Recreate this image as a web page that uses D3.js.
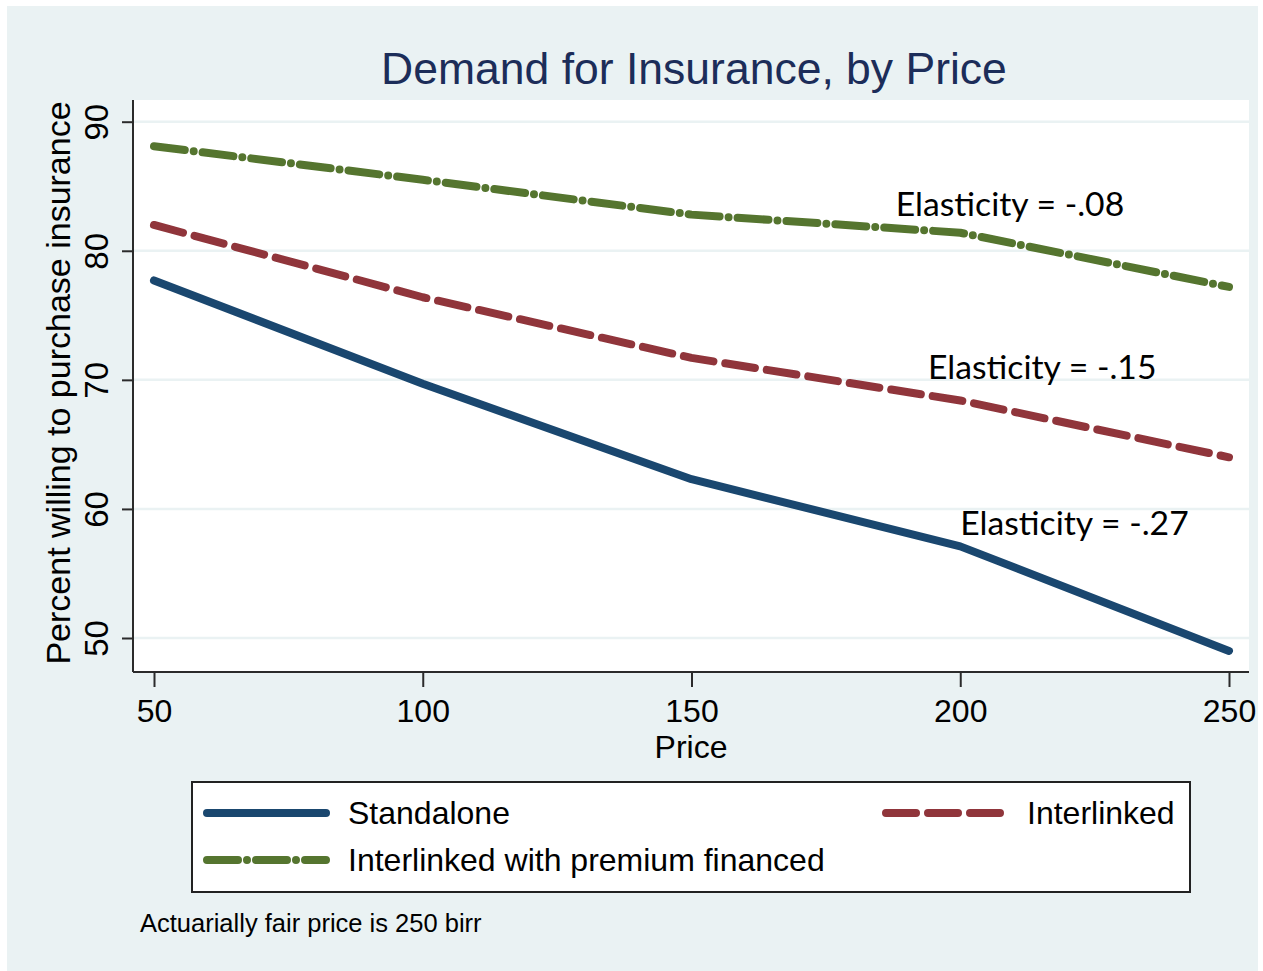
<!DOCTYPE html>
<meta charset="utf-8">
<style>
    body { margin: 0; background: #ffffff; }
    text { font-family: "Liberation Sans", Arial, Helvetica, sans-serif; fill: #000; }
    .grid line { stroke: #eaf2f3; stroke-width: 2.5px; }
    .axis path, .axis line { stroke: #2b2b2b; stroke-width: 2px; }
    .series { fill: none; stroke-width: 8px; stroke-linecap: round; stroke-linejoin: round; }
    .note-elast { font-family: Lato, "Open Sans", sans-serif; }
</style>
<svg width="1263" height="971"></svg>
<script src="https://cdn.jsdelivr.net/npm/d3@7"></script>
<script>
    // values
    let prices = [50, 100, 150, 200, 250];
    let standalone = [77.7, 69.7, 62.3, 57.1, 49.0];
    let interlinked = [82.0, 76.4, 71.7, 68.4, 64.0];
    let financed = [88.1, 85.5, 82.8, 81.4, 77.2];
    let yTicks = [50, 60, 70, 80, 90];
    let xTicks = [50, 100, 150, 200, 250];
    let seriesNames = ["Standalone", "Interlinked", "Interlinked with premium financed"];
    let elastLabels = ["Elasticity = -.08", "Elasticity = -.15", "Elasticity = -.27"];
    let elastPrice = [188, 194, 200];
    let elastValue = [82.7, 70.1, 58.0];

    let svg = d3.select("svg");

    let plot = {left: 133, right: 1249, top: 100, bottom: 672};

    let x = d3.scaleLinear().domain([50, 250]).range([154, 1229]);
    let y = d3.scaleLinear().domain([50, 90]).range([638, 121.7]);

    let colors = ["#1a476f", "#90353b", "#55752f"];
    let dashes = [null, "30,12", "31,9,0,9"];

    // outer graph region
    svg.append("rect")
            .attr("x", 7).attr("y", 6)
            .attr("width", 1251).attr("height", 965)
            .attr("fill", "#eaf2f3");

    svg.append("rect")
            .attr("x", plot.left).attr("y", plot.top)
            .attr("width", plot.right - plot.left)
            .attr("height", plot.bottom - plot.top)
            .attr("fill", "#ffffff");

    // gridlines
    svg.append("g")
            .attr("class", "grid")
            .selectAll("line")
            .data(yTicks)
            .enter().append("line")
            .attr("x1", plot.left).attr("x2", plot.right)
            .attr("y1", (d) => y(d)).attr("y2", (d) => y(d));

    // axes
    let yAxis = svg.append("g")
            .attr("class", "axis")
            .attr("transform", "translate(" + plot.left + ",0)")
            .call(d3.axisLeft(y).tickValues(yTicks).tickSize(11).tickSizeOuter(0).tickFormat(d3.format("d")));
    yAxis.select(".domain").attr("d", "M0," + plot.top + "V" + plot.bottom);
    yAxis.selectAll(".tick text")
            .attr("x", null).attr("dy", null)
            .attr("transform", "translate(-25,0) rotate(-90)")
            .attr("text-anchor", "middle")
            .style("font-size", "33px");

    let xAxis = svg.append("g")
            .attr("class", "axis")
            .attr("transform", "translate(0," + plot.bottom + ")")
            .call(d3.axisBottom(x).tickValues(xTicks).tickSize(15).tickSizeOuter(0).tickFormat(d3.format("d")));
    xAxis.select(".domain").attr("d", "M" + plot.left + ",0H" + plot.right);
    xAxis.selectAll(".tick text")
            .attr("y", 50).attr("dy", null)
            .style("font-size", "32px");
    svg.selectAll(".axis text").attr("fill", "#000");

    // axis titles
    svg.append("text")
            .attr("transform", "translate(70,383) rotate(-90)")
            .attr("text-anchor", "middle")
            .style("font-size", "34px")
            .text("Percent willing to purchase insurance");

    svg.append("text")
            .attr("x", (plot.left + plot.right) / 2)
            .attr("y", 758)
            .attr("text-anchor", "middle")
            .style("font-size", "32px")
            .text("Price");

    svg.append("text")
            .attr("x", 694)
            .attr("y", 84)
            .attr("text-anchor", "middle")
            .style("font-size", "44.5px")
            .style("fill", "#1c2d59")
            .text("Demand for Insurance, by Price");

    // lines
    let line = d3.line()
            .x((d, i) => x(prices[i]))
            .y((d) => y(d));

    let allSeries = [standalone, interlinked, financed];
    // draw financed first, standalone last
    [2, 1, 0].forEach((k) => {
        svg.append("path")
                .datum(allSeries[k])
                .attr("class", "series")
                .attr("d", line)
                .attr("stroke", colors[k])
                .attr("stroke-dasharray", dashes[k]);
    });

    // elasticity notes
    svg.selectAll("text.note-elast")
            .data(elastLabels)
            .enter().append("text")
            .attr("class", "note-elast")
            .attr("x", (d, i) => x(elastPrice[i]))
            .attr("y", (d, i) => y(elastValue[i]))
            .style("font-size", "33.7px")
            .text((d) => d);

    // legend
    let legend = svg.append("g");
    legend.append("rect")
            .attr("x", 192).attr("y", 782)
            .attr("width", 998).attr("height", 110)
            .attr("fill", "#ffffff")
            .attr("stroke", "#222")
            .attr("stroke-width", 2);

    let legendPos = [[203, 813], [882, 813], [203, 860]];
    seriesNames.forEach((name, k) => {
        let p = legendPos[k];
        legend.append("line")
                .attr("class", "series")
                .attr("x1", p[0] + 4).attr("x2", p[0] + 123)
                .attr("y1", p[1]).attr("y2", p[1])
                .attr("stroke", colors[k])
                .attr("stroke-dasharray", dashes[k]);
        legend.append("text")
                .attr("x", p[0] + 145)
                .attr("y", p[1])
                .attr("dy", "0.35em")
                .style("font-size", "32px")
                .text(name);
    });

    svg.append("text")
            .attr("x", 140)
            .attr("y", 932)
            .style("font-size", "25.5px")
            .text("Actuarially fair price is 250 birr");
</script>
</html>
